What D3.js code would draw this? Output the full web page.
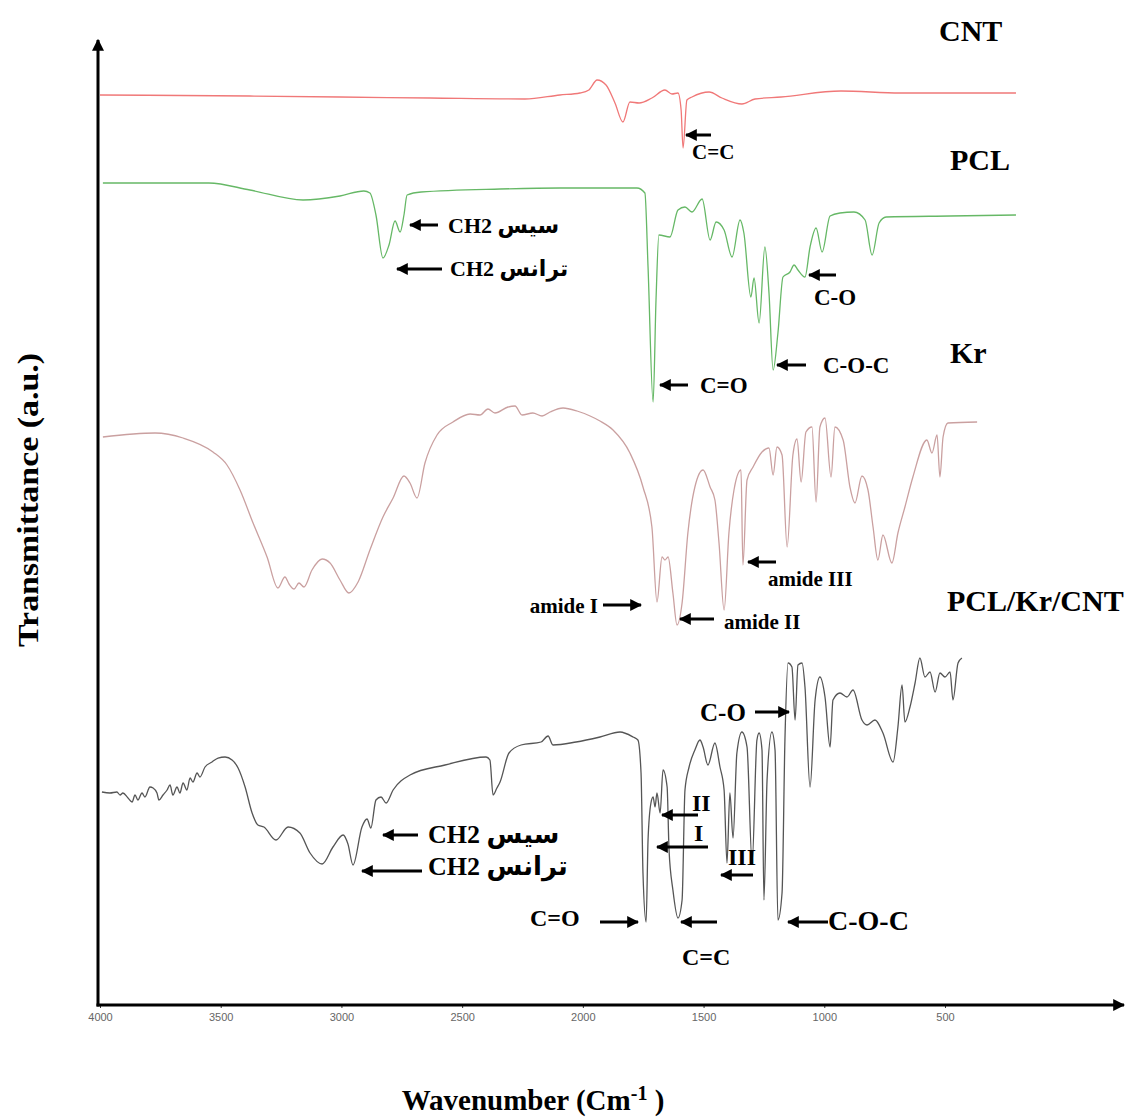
<!DOCTYPE html>
<html>
<head>
<meta charset="utf-8">
<script src="https://cdn.jsdelivr.net/npm/d3@7"></script>
<style>
  body { margin: 0; background: #fff; }
  svg { display: block; }
</style>
</head>
<body>
<svg id="chart" width="1137" height="1120"></svg>
<script>
// FTIR spectra, [wavenumber cm-1, transmittance a.u. (stacked offsets)]
const cntSpectrum = [
  [4000, 910], [3379, 909], [3006, 908], [2633, 907], [2240, 906], [2095, 910],
  [2012, 912], [1975, 915], [1941, 925], [1904, 920], [1867, 902], [1834, 883],
  [1805, 903], [1767, 902], [1714, 907], [1660, 915], [1631, 911], [1606, 912],
  [1593, 895], [1585, 857], [1569, 905], [1548, 908], [1477, 913], [1424, 907],
  [1341, 901], [1287, 906], [1179, 908], [931, 914], [686, 912], [206, 912]
];

const pclSpectrum = [
  [3988, 822], [3549, 822], [3379, 815], [3159, 805], [3006, 809], [2907, 814],
  [2882, 812], [2857, 790], [2828, 747], [2803, 760], [2778, 784], [2757, 773],
  [2741, 790], [2728, 810], [2670, 813], [2343, 816], [2095, 817], [1776, 817],
  [1743, 812], [1730, 738], [1709, 603], [1697, 705], [1685, 770], [1639, 768],
  [1606, 795], [1577, 798], [1548, 793], [1506, 806], [1473, 765], [1448, 783],
  [1415, 775], [1382, 748], [1349, 785], [1333, 772], [1304, 708], [1291, 727],
  [1270, 682], [1246, 758], [1229, 712], [1212, 635], [1192, 672], [1171, 728],
  [1142, 733], [1125, 740], [1109, 735], [1080, 728], [1059, 758], [1034, 777],
  [1009, 753], [976, 789], [935, 792], [877, 793], [831, 785], [802, 750],
  [773, 782], [744, 788], [479, 789], [206, 790]
];

const krSpectrum = [
  [3988, 568], [3772, 572], [3656, 567], [3532, 553], [3474, 540], [3420, 515],
  [3366, 482], [3308, 448], [3263, 417], [3234, 428], [3217, 421], [3196, 416],
  [3176, 422], [3155, 418], [3122, 435], [3080, 446], [3047, 442], [3006, 425],
  [2969, 412], [2931, 423], [2882, 455], [2828, 488], [2786, 507], [2741, 529],
  [2716, 522], [2687, 507], [2654, 542], [2604, 570], [2538, 583], [2467, 591],
  [2426, 590], [2393, 596], [2364, 592], [2310, 598], [2281, 599], [2252, 590],
  [2207, 592], [2169, 589], [2136, 593], [2082, 597], [2024, 594], [1970, 589],
  [1929, 584], [1875, 575], [1805, 552], [1751, 518], [1714, 478], [1693, 403],
  [1672, 448], [1660, 445], [1647, 448], [1627, 412], [1610, 380], [1589, 402],
  [1565, 472], [1536, 518], [1502, 535], [1473, 518], [1453, 505], [1436, 462],
  [1415, 395], [1395, 472], [1374, 515], [1345, 535], [1337, 440], [1320, 525],
  [1295, 538], [1258, 553], [1229, 557], [1212, 530], [1196, 558], [1175, 550],
  [1154, 458], [1130, 550], [1113, 566], [1096, 523], [1076, 573], [1051, 578],
  [1034, 503], [1018, 578], [997, 587], [972, 528], [956, 578], [922, 565],
  [893, 517], [873, 502], [844, 529], [819, 515], [798, 478], [778, 445],
  [757, 470], [720, 442], [695, 472], [666, 498], [633, 528], [575, 565],
  [554, 552], [533, 570], [521, 528], [508, 568], [488, 582], [367, 583]
];

const compositeSpectrum = [
  [3992, 213], [3959, 212], [3930, 213], [3917, 210], [3905, 212], [3884, 207],
  [3867, 203], [3855, 210], [3843, 205], [3826, 212], [3814, 208], [3793, 218],
  [3780, 217], [3764, 212], [3756, 205], [3739, 210], [3722, 215], [3710, 220],
  [3698, 210], [3681, 218], [3669, 212], [3656, 222], [3640, 215], [3627, 227],
  [3615, 223], [3598, 232], [3586, 228], [3565, 238], [3536, 243], [3511, 247],
  [3482, 248], [3453, 245], [3428, 237], [3399, 218], [3370, 192],
  [3346, 180], [3321, 178], [3271, 165], [3221, 178], [3172, 172],
  [3130, 152], [3080, 141], [3035, 158], [2993, 170], [2973, 161], [2952, 140],
  [2915, 178], [2894, 186], [2878, 177], [2857, 205], [2836, 208], [2815, 202],
  [2786, 215], [2716, 230], [2571, 240], [2401, 248], [2385, 245], [2372, 210],
  [2356, 217], [2343, 223], [2306, 252], [2256, 260], [2173, 263], [2144, 269],
  [2124, 260], [2028, 263], [1929, 268], [1846, 273], [1792, 268], [1772, 265],
  [1759, 232], [1751, 132], [1738, 83], [1730, 165], [1718, 202], [1709, 208],
  [1701, 198], [1693, 212], [1680, 192], [1668, 235], [1651, 218], [1643, 155],
  [1627, 115], [1606, 87], [1589, 105], [1577, 215], [1560, 238], [1536, 255],
  [1515, 265], [1502, 258], [1482, 240], [1453, 262], [1432, 238], [1415, 215],
  [1403, 142], [1391, 212], [1378, 167], [1362, 252], [1341, 273], [1320, 258],
  [1299, 142], [1279, 265], [1270, 272], [1258, 255], [1250, 105], [1237, 225],
  [1217, 273], [1204, 255], [1192, 85], [1175, 112], [1163, 265], [1150, 342],
  [1134, 338], [1121, 285], [1109, 340], [1092, 342], [1080, 318], [1059, 218],
  [1038, 305], [1018, 328], [997, 308], [976, 258], [964, 305], [935, 312],
  [906, 308], [881, 315], [844, 285], [823, 280], [790, 285], [757, 272],
  [715, 243], [695, 278], [678, 320], [666, 283], [645, 298], [624, 322],
  [604, 347], [583, 328], [562, 333], [541, 313], [521, 332], [500, 328],
  [479, 333], [467, 305], [446, 342], [430, 347]
];

const xTicks = [4000, 3500, 3000, 2500, 2000, 1500, 1000, 500];

const series = [
  { name: "CNT", data: cntSpectrum, color: "#f07878" },
  { name: "PCL", data: pclSpectrum, color: "#66b866" },
  { name: "Kr", data: krSpectrum, color: "#caa0a0" },
  { name: "PCL/Kr/CNT", data: compositeSpectrum, color: "#555555" }
];

// layout: series titles (pixel positions)
const titles = [
  { text: "CNT", x: 939, y: 30 },
  { text: "PCL", x: 950, y: 159 },
  { text: "Kr", x: 950, y: 352 },
  { text: "PCL/Kr/CNT", x: 947, y: 600 }
];

// layout: band annotations, text start + arrow (x1 tail -> x2 tip)
const notes = [
  { text: "C=C", tx: 692, ty: 152, size: 21, ax1: 711, ax2: 686, ay: 135 },
  { text: "CH2 سیس", tx: 448, ty: 225, size: 22, ax1: 438, ax2: 410, ay: 225 },
  { text: "CH2 ترانس", tx: 450, ty: 268, size: 22, ax1: 442, ax2: 397, ay: 269 },
  { text: "C=O", tx: 700, ty: 385, size: 23, ax1: 688, ax2: 660, ay: 385 },
  { text: "C-O-C", tx: 823, ty: 365, size: 23, ax1: 806, ax2: 777, ay: 365 },
  { text: "C-O", tx: 814, ty: 297, size: 23, ax1: 836, ax2: 809, ay: 275 },
  { text: "amide I", tx: 598, ty: 606, size: 21, anchor: "end", ax1: 603, ax2: 641, ay: 605 },
  { text: "amide II", tx: 724, ty: 622, size: 21, ax1: 714, ax2: 680, ay: 619 },
  { text: "amide III", tx: 768, ty: 579, size: 21, ax1: 776, ax2: 748, ay: 562 },
  { text: "CH2 سیس", tx: 428, ty: 834, size: 26, ax1: 418, ax2: 383, ay: 835 },
  { text: "CH2 ترانس", tx: 428, ty: 866, size: 26, ax1: 422, ax2: 362, ay: 871 },
  { text: "C=O", tx: 530, ty: 918, size: 24, ax1: 600, ax2: 638, ay: 922 },
  { text: "C=C", tx: 682, ty: 957, size: 24, ax1: 717, ax2: 681, ay: 922 },
  { text: "C-O-C", tx: 828, ty: 920, size: 28, ax1: 828, ax2: 788, ay: 922 },
  { text: "C-O", tx: 700, ty: 712, size: 25, ax1: 755, ax2: 789, ay: 712 },
  { text: "II", tx: 692, ty: 803, size: 24, ax1: 698, ax2: 662, ay: 815 },
  { text: "I", tx: 694, ty: 833, size: 24, ax1: 708, ax2: 657, ay: 847 },
  { text: "III", tx: 728, ty: 857, size: 24, ax1: 753, ax2: 721, ay: 875 }
];

const serif = "'Liberation Serif', 'Times New Roman', 'DejaVu Serif', 'DejaVu Sans', serif";

const svg = d3.select("#chart");

const x = d3.scaleLinear().domain([4000, 500]).range([100, 945]);
const y = d3.scaleLinear().domain([0, 975]).range([1005, 30]);

const defs = svg.append("defs");
defs.append("marker")
    .attr("id", "head")
    .attr("viewBox", "0 0 10 10")
    .attr("refX", 9).attr("refY", 5)
    .attr("markerWidth", 4).attr("markerHeight", 4)
    .attr("orient", "auto")
  .append("path")
    .attr("d", "M0,0 L10,5 L0,10 Z")
    .attr("fill", "#000");

// spectra
const line = d3.line()
    .curve(d3.curveMonotoneX)
    .x(d => x(d[0]))
    .y(d => y(d[1]));

svg.append("g")
  .selectAll("path")
  .data(series)
  .join("path")
    .attr("d", d => line(d.data))
    .attr("fill", "none")
    .attr("stroke", d => d.color)
    .attr("stroke-width", 1.3)
    .attr("stroke-linejoin", "round");

// x axis ticks and labels
const xAxis = svg.append("g")
    .attr("transform", `translate(0,${y(0)})`)
    .call(d3.axisBottom(x).tickValues(xTicks).tickSize(3).tickFormat(d3.format("d")));
xAxis.select(".domain").remove();
xAxis.selectAll("line").attr("stroke", "#333");
xAxis.selectAll("text")
    .attr("fill", "#666")
    .attr("dy", "0.9em")
    .style("font-family", "'Liberation Sans Narrow', 'Liberation Sans', Arial, sans-serif")
    .style("font-size", "11px");

// main axis arrows
svg.append("line")
    .attr("x1", 98).attr("y1", y(0) + 1.5)
    .attr("x2", 98).attr("y2", 40)
    .attr("stroke", "#000").attr("stroke-width", 3)
    .attr("marker-end", "url(#head)");
svg.append("line")
    .attr("x1", 96.5).attr("y1", y(0))
    .attr("x2", 1124).attr("y2", y(0))
    .attr("stroke", "#000").attr("stroke-width", 3)
    .attr("marker-end", "url(#head)");

// axis titles
svg.append("text")
    .attr("transform", "translate(27,500) rotate(-90)")
    .attr("text-anchor", "middle")
    .attr("dominant-baseline", "central")
    .attr("textLength", 294)
    .attr("lengthAdjust", "spacingAndGlyphs")
    .style("font-family", serif)
    .style("font-weight", "bold")
    .style("font-size", "30px")
    .text("Transmittance (a.u.)");

const xl = svg.append("text")
    .attr("x", 533).attr("y", 1110)
    .attr("text-anchor", "middle")
    .style("font-family", serif)
    .style("font-weight", "bold")
    .style("font-size", "29px");
xl.append("tspan").text("Wavenumber (Cm");
xl.append("tspan").attr("dy", -10).style("font-size", "20px").text("-1");
xl.append("tspan").attr("dy", 10).text(" )");

// series titles
svg.append("g")
  .selectAll("text")
  .data(titles)
  .join("text")
    .attr("x", d => d.x)
    .attr("y", d => d.y)
    .attr("dominant-baseline", "central")
    .style("font-family", serif)
    .style("font-weight", "bold")
    .style("font-size", "30px")
    .text(d => d.text);

// annotations
const ann = svg.append("g");
ann.selectAll("line")
  .data(notes)
  .join("line")
    .attr("x1", d => d.ax1).attr("y1", d => d.ay)
    .attr("x2", d => d.ax2).attr("y2", d => d.ay)
    .attr("stroke", "#000")
    .attr("stroke-width", 3)
    .attr("marker-end", "url(#head)");
ann.selectAll("text")
  .data(notes)
  .join("text")
    .attr("x", d => d.tx)
    .attr("y", d => d.ty)
    .attr("text-anchor", d => d.anchor || "start")
    .attr("dominant-baseline", "central")
    .style("font-family", serif)
    .style("font-weight", "bold")
    .style("font-size", d => d.size + "px")
    .text(d => d.text);
</script>
</body>
</html>
